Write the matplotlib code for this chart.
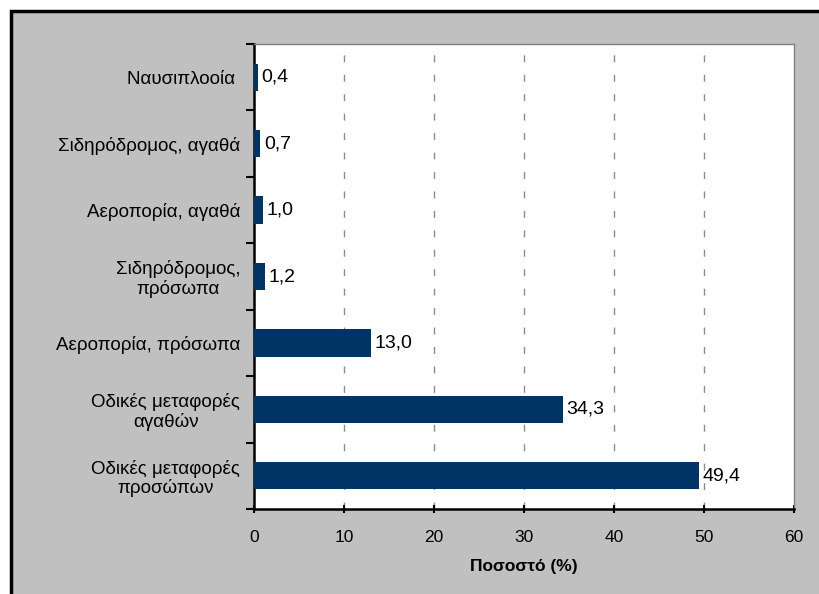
import matplotlib
matplotlib.use("Agg")
import matplotlib.pyplot as plt
from matplotlib.patches import Rectangle
import numpy as np

plt.rcParams['font.family'] = ['Liberation Sans', 'DejaVu Sans']

categories = [
    "Οδικές μεταφορές\nπροσώπων",
    "Οδικές μεταφορές\nαγαθών",
    "Αεροπορία, πρόσωπα",
    "Σιδηρόδρομος,\nπρόσωπα",
    "Αεροπορία, αγαθά",
    "Σιδηρόδρομος, αγαθά",
    "Ναυσιπλοοία ",
]
values = [49.4, 34.3, 13.0, 1.2, 1.0, 0.7, 0.4]
x_ticks = [0, 10, 20, 30, 40, 50, 60]
x_label = "Ποσοστό (%)"

W, H = 819, 594
fig = plt.figure(figsize=(W / 100, H / 100), dpi=100)
fig.patch.set_facecolor("white")

# grey chart area with a heavy black frame on the top and left
frame = Rectangle((11 / W, -0.05), 1.1, (H - 11) / H + 0.05,
                  transform=fig.transFigure, facecolor="#C0C0C0",
                  edgecolor="black", linewidth=2.5)
frame.set_zorder(-10)
fig.add_artist(frame)

ax = fig.add_axes([254 / W, (H - 509) / H, (794 - 254) / W, (509 - 44) / H])
ax.set_zorder(1)
ax.set_facecolor("white")

y = np.arange(len(categories))
ax.barh(y, values, height=0.41, color="#003366", zorder=3)

for yi, v in zip(y, values):
    ax.text(v + 0.4, yi, f"{v:.1f}".replace(".", ","), va="center", ha="left",
            fontsize=14, color="black", zorder=4)

ax.set_xlim(0, 60)
ax.set_ylim(-0.5, len(categories) - 0.5)
ax.set_xticks(x_ticks)
ax.set_xticklabels([str(t) for t in x_ticks], fontsize=12.5)

# category labels between boundary tick marks
ax.set_yticks(y)
ax.set_yticklabels(categories, fontsize=13.5, ha="right", multialignment="center",
                   linespacing=1.1)
ax.tick_params(axis="y", length=0, pad=10)
ax.set_yticks(np.arange(-0.5, len(categories), 1.0), minor=True)
ax.tick_params(axis="y", which="minor", length=6, width=1.5, direction="out")
ax.tick_params(axis="x", length=6, width=1.5, direction="inout", pad=12)

for gx in x_ticks[1:-1]:
    ax.axvline(gx, color="#8C8C8C", linestyle=(0, (5, 9)), linewidth=1.0, zorder=1)

for side in ("left", "bottom"):
    ax.spines[side].set_color("black")
    ax.spines[side].set_linewidth(1.8)
for side in ("top", "right"):
    ax.spines[side].set_color("#808080")
    ax.spines[side].set_linewidth(1.0)

ax.set_xlabel(x_label, fontsize=12.5, fontweight="bold", labelpad=10)

fig.savefig("out.png", dpi=100, facecolor=fig.get_facecolor())
